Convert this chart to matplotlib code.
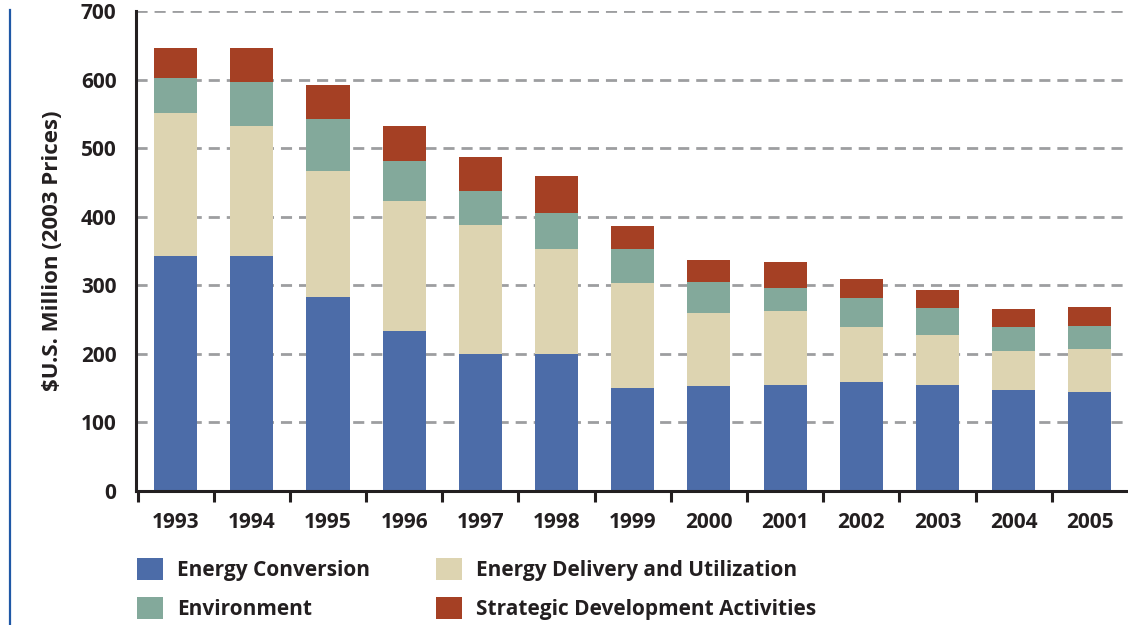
import matplotlib
matplotlib.use('Agg')  # no display
import matplotlib.pyplot as plt
from matplotlib.lines import Line2D
from matplotlib.patches import Patch
import numpy as np

years = ['1993', '1994', '1995', '1996', '1997', '1998', '1999',
         '2000', '2001', '2002', '2003', '2004', '2005']
energy_conversion = [343, 343, 283, 233, 200, 200, 150, 153, 154, 159, 155, 147, 144]
energy_delivery = [208, 189, 184, 190, 188, 153, 153, 106, 108, 80, 72, 57, 63]
environment = [51, 65, 76, 58, 50, 52, 50, 46, 34, 42, 40, 35, 34]
strategic = [44, 49, 49, 51, 49, 54, 33, 32, 38, 28, 26, 26, 27]

labels = ['Energy Conversion', 'Energy Delivery and Utilization',
          'Environment', 'Strategic Development Activities']
colors = ['#4c6ca8', '#ddd4b1', '#83a99b', '#a54024']
text_color = '#231f20'

plt.rcParams['font.family'] = ['Open Sans', 'DejaVu Sans']
plt.rcParams['font.weight'] = 'bold'
plt.rcParams['axes.labelweight'] = 'bold'

W, H = 1128, 625
fig = plt.figure(figsize=(W / 100, H / 100), dpi=100)
ax = fig.add_axes([136 / W, 1 - 490.7 / H, 1 - 136 / W, (490.7 - 11.2) / H])

# stacked bars
x = np.arange(len(years))
bottom = np.zeros(len(years))
for vals, color, label in zip([energy_conversion, energy_delivery, environment, strategic],
                              colors, labels):
    ax.bar(x, vals, 0.565, bottom=bottom, color=color, label=label, zorder=2)
    bottom += np.array(vals)

ax.set_xlim(-0.52, 12.5)
ax.set_ylim(0, 700)
ax.set_yticks(range(0, 701, 100))

# dashed grey gridlines behind the bars
ax.yaxis.grid(True, linestyle=(0, (4, 2.5)), linewidth=2, color='#9d9ea0')
ax.set_axisbelow(True)

# tick marks sit between the bars, year labels under the bars
ax.set_xticks(np.arange(-0.5, 12.5, 1))
ax.set_xticklabels([])
ax.set_xticks(x, minor=True)
ax.set_xticklabels(years, minor=True)
ax.tick_params(axis='x', which='major', length=8, width=2.2, color=text_color, direction='out')
ax.tick_params(axis='x', which='minor', length=0, pad=15, labelsize=15, labelcolor=text_color)
ax.tick_params(axis='y', length=0, pad=14, labelsize=15, labelcolor=text_color)

for side in ['top', 'right']:
    ax.spines[side].set_visible(False)
for side in ['left', 'bottom']:
    ax.spines[side].set_linewidth(2.2)
    ax.spines[side].set_color(text_color)

ax.set_ylabel('\\$U.S. Million (2003 Prices)', fontsize=16, color=text_color)
ax.yaxis.set_label_coords((63 - 136) / 992, 0.5)

# thin blue rule on the far left
fig.add_artist(Line2D([10 / W, 10 / W], [0, 1 - 10 / H], transform=fig.transFigure,
                      color='#1f58a6', linewidth=1.6))

# legend in two columns
handles = [Patch(facecolor=c, edgecolor='none', label=l) for c, l in zip(colors, labels)]
order = [0, 2, 1, 3]
fig.legend([handles[i] for i in order], [labels[i] for i in order], ncol=2,
           loc='upper left', bbox_to_anchor=(137 / W, 1 - 558 / H), frameon=False,
           fontsize=15, handlelength=1.25, handleheight=1.25, handletextpad=0.67,
           columnspacing=3.17, labelspacing=0.76, borderaxespad=0, borderpad=0,
           labelcolor=text_color)

fig.savefig('out.png', dpi=100)
plt.close(fig)
